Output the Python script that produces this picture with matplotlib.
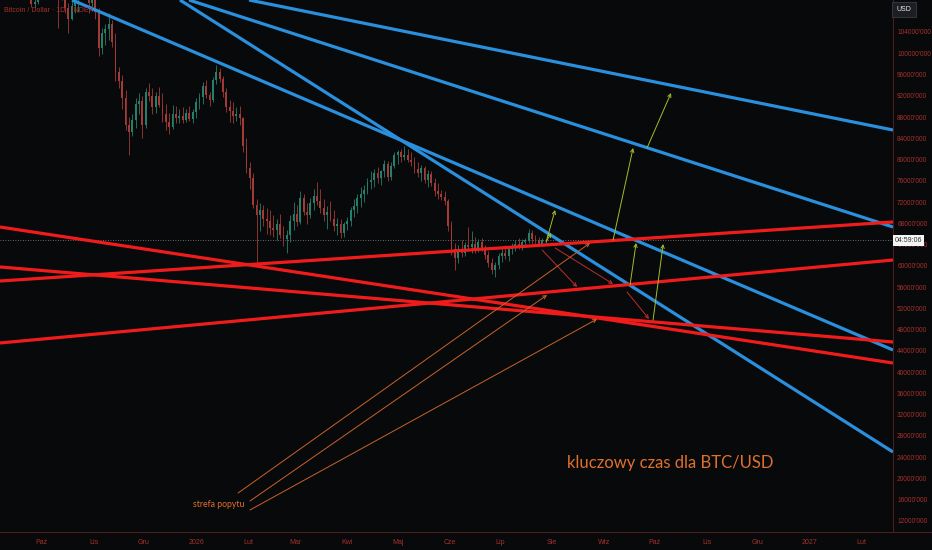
import matplotlib
matplotlib.use("Agg")
import matplotlib.pyplot as plt
from matplotlib.lines import Line2D

# dni liczone od 2025-10-01, świece co 2 dni
start_day = -24
step = 2
first_open = 111500

highs = [113000, 114500, 116000, 117500, 117800, 117200, 115800, 113500, 113800, 113000,
         110500, 114200, 118500, 122500, 125500, 126000, 123500, 122000, 115800, 113800,
         109500, 111500, 111800, 112000, 114500, 116200, 116000, 112000, 111200, 108500,
         104800, 105500, 107500, 106300, 103800, 97500, 96000, 93000, 88000, 88500,
         91500, 92500, 92000, 93500, 94400, 93500, 92800, 93600, 92500, 90500,
         88800, 90200, 90000, 89500, 89800, 89600, 90000, 89500, 91500, 92500,
         94500, 95000, 92800, 95500, 97800, 97200, 95800, 93500, 91200, 90800,
         89800, 90000, 88000, 84000, 79500, 77500, 72500, 71800, 71500, 70800,
         70500, 69500, 68800, 69800, 67500, 66800, 69500, 72000, 71500, 74000,
         73500, 71800, 72800, 74500, 75800, 74500, 72500, 71200, 72200, 70500,
         69000, 68800, 68200, 69200, 71000, 72500, 73500, 74800, 75200, 76500,
         77800, 78200, 78600, 78000, 80000, 79800, 79500, 81500, 81800, 82000,
         82500, 82000, 81500, 80500, 79500, 79000, 78800, 78000, 77800, 76500,
         75500, 74300, 74000, 72500, 68500, 64300, 64000, 64900, 64500, 67300,
         66500, 65400, 65000, 65200, 64000, 62800, 61500, 60800, 62500, 63500,
         64000, 63800, 64300, 64800, 65200, 65000, 65300, 66900, 66800, 65800,
         65400, 65200, 65000]
lows = [110800, 111800, 113500, 114800, 115500, 114500, 112000, 111000, 110500, 108700,
        108600, 109300, 113500, 117800, 121500, 120800, 120500, 104800, 110000, 107500,
        103800, 106200, 107500, 107800, 110500, 112800, 107500, 108000, 106500, 99500,
        99800, 101500, 102500, 101200, 94800, 93500, 89500, 85500, 80800, 84500,
        86000, 88500, 84000, 86000, 91000, 88500, 88800, 89800, 87000, 85500,
        84800, 85800, 86800, 86900, 86800, 87000, 87300, 86900, 87800, 89500,
        90500, 91500, 90000, 90800, 94200, 94500, 91800, 89000, 87000, 86900,
        87200, 86500, 81500, 77500, 74500, 70800, 60500, 66500, 67500, 66000,
        65800, 65500, 64800, 65200, 63800, 62400, 64500, 66800, 67500, 67800,
        69500, 67800, 69000, 70500, 71500, 70000, 68500, 67000, 68500, 66500,
        65800, 65200, 65500, 66800, 67500, 69200, 70000, 71000, 72000, 73500,
        74500, 74800, 75500, 75200, 76800, 76000, 76200, 78500, 79200, 79500,
        80000, 79500, 78800, 77500, 76800, 76000, 75500, 74800, 75000, 73200,
        72500, 72400, 71500, 66500, 62000, 59200, 60500, 61700, 61800, 62800,
        62500, 62400, 62600, 62800, 61200, 59800, 58500, 57900, 59500, 60800,
        61200, 61000, 62200, 62800, 63200, 63000, 63500, 64300, 64200, 63900,
        63800, 63900, 64000]
closes = [112200, 114000, 115500, 116500, 116000, 115200, 112800, 111800, 112500, 109200,
          109600, 113800, 118200, 122000, 123500, 121500, 121500, 112500, 113500, 108500,
          106500, 108800, 110500, 111200, 113800, 114500, 109500, 110200, 107800, 101000,
          103800, 104500, 105500, 102200, 96500, 94800, 91500, 86500, 85200, 87500,
          90500, 91000, 86500, 92800, 92000, 89800, 92000, 90200, 88500, 87000,
          86200, 88500, 87800, 88200, 87500, 88800, 87600, 88900, 90800, 91800,
          93800, 92200, 91200, 95000, 96500, 95200, 92800, 89800, 89200, 88200,
          88500, 87800, 82500, 78500, 76500, 71500, 69500, 70500, 68800, 68500,
          67200, 66800, 67800, 65800, 65000, 65800, 68500, 69800, 68200, 72800,
          70200, 69500, 71800, 73200, 72200, 70800, 69500, 70200, 68900, 67500,
          67800, 66200, 67900, 68500, 70500, 71200, 72800, 73500, 74200, 75800,
          76200, 77500, 76500, 77800, 79200, 76800, 78800, 80800, 81500, 80500,
          80800, 80000, 79600, 78200, 77500, 78500, 76200, 77300, 75500, 74000,
          73500, 72900, 72200, 67500, 63200, 61500, 63200, 62500, 64000, 63500,
          64200, 63000, 64500, 63300, 62000, 60500, 59200, 60200, 61800, 62500,
          61800, 63200, 63500, 64200, 63800, 64500, 64800, 66200, 65000, 64600,
          64200, 64800, 64800]

# linie trendu: (dzień, cena) -> (dzień, cena)
blue_lines = [
    ((18.2, 110020), (506.8, 44170)),
    ((82.4, 110020), (506.8, 24980)),
    ((87.8, 110020), (506.8, 67310)),
    ((123.5, 110020), (506.8, 85560)),
]
red_lines = [
    ((-24.7, 57150), (506.8, 68250)),
    ((-24.7, 45490), (506.8, 61100)),
    ((-24.7, 67310), (506.8, 41720)),
    ((-24.7, 59790), (506.8, 45670)),
]
green_arrows = [
    ((300.7, 64865), (305.7, 70510)),
    ((300.3, 64490), (303.3, 66180)),
    ((340.2, 64865), (352.1, 82175)),
    ((360.4, 82175), (374.7, 92520)),
    ((350.3, 56400), (353.9, 64300)),
    ((364.0, 49810), (370.0, 64110)),
]
red_arrows = [
    ((298.0, 62980), (318.8, 56020)),
    ((305.7, 63360), (340.2, 56590)),
    ((348.5, 55080), (361.6, 50000)),
]
orange_arrows = [
    ((117.0, 17260), (326.5, 64300)),
    ((124.1, 15760), (300.9, 54520)),
    ((124.1, 14070), (330.7, 50000)),
]

month_days = [0, 31, 61, 92, 123, 151, 182, 212, 243, 273, 304, 335, 365, 396, 426, 457, 488]
month_labels = ["Paź", "Lis", "Gru", "2026", "Lut", "Mar", "Kwi", "Maj", "Cze",
                "Lip", "Sie", "Wrz", "Paź", "Lis", "Gru", "2027", "Lut"]
price_ticks = list(range(12000, 104001, 4000))

bg = "#08090a"
txt_red = "#a8302c"

n = min(len(highs), len(lows), len(closes))
days = [start_day + step * i for i in range(n)]
opens = [first_open] + closes[:n - 1]

fig = plt.figure(figsize=(9.32, 5.5), dpi=100, facecolor=bg)
ax = fig.add_axes([0, 18 / 550, 893 / 932, 532 / 550])
ax.set_facecolor(bg)

# świece
for d, o, h, l, c in zip(days, opens, highs, lows, closes):
    col = "#24806b" if c >= o else "#a23a36"
    ax.vlines(d, l, h, color=col, lw=0.6, zorder=2)
    ax.bar(d, max(abs(c - o), 150), bottom=min(o, c), width=1.1, color=col, lw=0, zorder=2)

# linia ostatniej ceny
ax.axhline(closes[n - 1], color="#8a8a8a", lw=0.6, ls=(0, (1, 2)), zorder=1)

for (x0, y0), (x1, y1) in blue_lines:
    ax.plot([x0, x1], [y0, y1], color="#2a8fdc", lw=2.3, solid_capstyle="butt", zorder=4)
for (x0, y0), (x1, y1) in red_lines:
    ax.plot([x0, x1], [y0, y1], color="#f01c1c", lw=2.3, solid_capstyle="butt", zorder=4)

def arrow(p0, p1, col):
    ax.annotate("", xy=p1, xytext=p0, zorder=5,
                arrowprops=dict(arrowstyle="->", color=col, lw=0.7,
                                shrinkA=0, shrinkB=0, mutation_scale=6))

for p0, p1 in green_arrows:
    arrow(p0, p1, "#9fbf2e")
for p0, p1 in red_arrows:
    arrow(p0, p1, "#b8302c")
for p0, p1 in orange_arrows:
    arrow(p0, p1, "#c9622c")

ax.text(90.2, 15190, "strefa popytu", color="#e0702e", fontsize=6.2,
        family="Lato", va="center", ha="left", zorder=6)
ax.text(312.8, 22900, "kluczowy czas dla BTC/USD", color="#e0702e", fontsize=12,
        family="Lato", va="center", ha="left", zorder=6)

ax.text(0.004, 0.981, "Bitcoin / Dollar · 1D · INDEX", transform=ax.transAxes,
        color=txt_red, fontsize=5, family="Liberation Sans", va="center", zorder=6)

ax.set_xlim(-24.7, 506.8)
ax.set_ylim(9925, 110020)

ax.set_xticks(month_days)
ax.set_xticklabels(month_labels)
ax.set_yticks(price_ticks)
ax.set_yticklabels([f"{v}'000" for v in price_ticks])
ax.yaxis.tick_right()
ax.tick_params(axis="y", length=0, pad=3, labelsize=4.7, labelcolor=txt_red)
ax.tick_params(axis="x", length=0, pad=5, labelsize=5, labelcolor=txt_red)
for lab in ax.get_xticklabels() + ax.get_yticklabels():
    lab.set_family("Liberation Sans")

for s in ["top", "left"]:
    ax.spines[s].set_visible(False)
ax.spines["bottom"].set_color("#4a1e1e")
ax.spines["right"].set_color("#4a1e1e")
ax.spines["bottom"].set_linewidth(0.8)
ax.spines["right"].set_linewidth(0.8)
fig.add_artist(Line2D([893 / 932, 1], [18 / 550, 18 / 550], color="#4a1e1e", lw=0.8))

# etykiety osi cen
ax.text(1.004, 0.982, "USD", transform=ax.transAxes, color="#e6e6e6", fontsize=5,
        family="Liberation Sans", va="center", ha="left",
        bbox=dict(boxstyle="square,pad=0.6", fc="#1c1e24", ec="#3a3c44", lw=0.6), zorder=7)
ax.text(1.002, closes[n - 1], "04:59:06", transform=ax.get_yaxis_transform(),
        color="#333333", fontsize=5, family="Liberation Sans", va="center", ha="left",
        bbox=dict(boxstyle="square,pad=0.3", fc="#f4f4f4", ec="none"), zorder=7,
        clip_on=False)

fig.savefig("out.png", dpi=100, facecolor=bg)
